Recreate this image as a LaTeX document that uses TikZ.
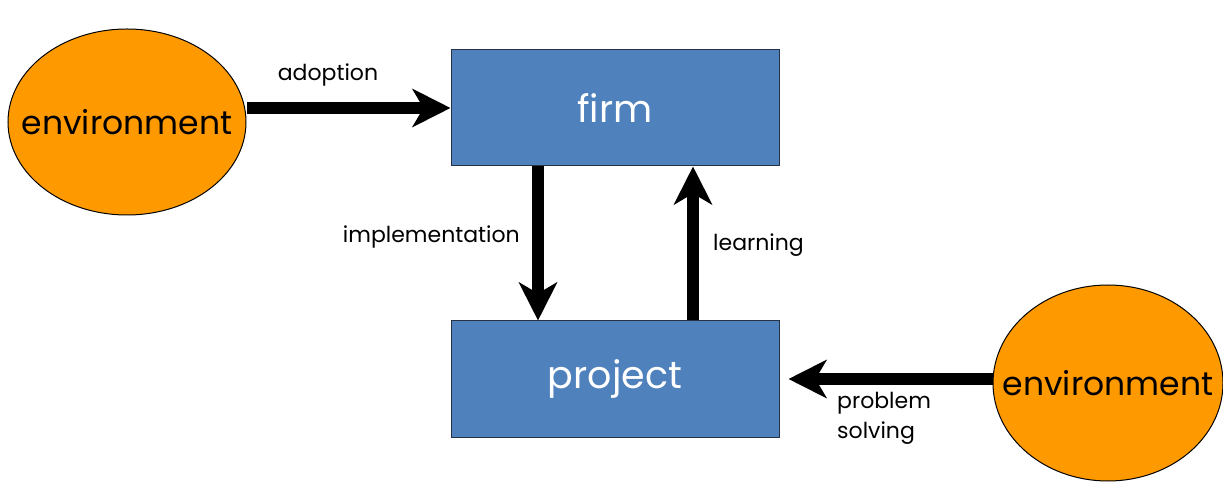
\documentclass[tikz,border=0pt]{standalone}
\usepackage{fontspec}
\setmainfont{Poppins}
\usetikzlibrary{positioning}
\usetikzlibrary{calc}
\usetikzlibrary{arrows.meta}
\usetikzlibrary{shapes.geometric}
\definecolor{envorange}{RGB}{255,153,0}
\definecolor{boxblue}{RGB}{79,129,189}
\definecolor{boxline}{RGB}{40,50,70}
\tikzset{
	every node/.style={align=center,inner sep=0pt},
	env/.style={ellipse,draw=black,line width=1pt,fill=envorange,inner xsep=-40pt,inner ysep=-20pt,font=\fontsize{33}{38}\selectfont},
	unit/.style={rectangle,draw=boxline,line width=1pt,fill=boxblue,text=white,minimum width=328pt,minimum height=116pt,font=\fontsize{38}{44}\selectfont},
	flow/.style={line width=12pt,-{Stealth[length=38pt,width=38pt,inset=11pt]}},
	lbl/.style={font=\fontsize{22}{30}\selectfont},
}

\begin{document}
\begin{tikzpicture}[x=1pt,y=1pt]
			\useasboundingbox (0,0) rectangle (1223,482);
			
			% environment ellipses..................
			\node [env,minimum width=238pt,minimum height=186pt] (envL) at (127,360) {environment};
			\node [env,minimum width=230pt,minimum height=196pt] (envR) at (1108,99) {environment};
			
			% firm and project boxes................
			\node [unit] (firm) at (615,374) {firm};
			\node [unit] (project) at (615,103) {project};
			
			% arrows................................
			\draw [flow] (firm.west -| envL.east) to (firm.west);
			\draw [flow] ([xshift=-77pt]firm.south) to ([xshift=-77pt]project.north);
			\draw [flow] ([xshift=78pt]project.north) to ([xshift=78pt]firm.south);
			\draw [flow] (envR.west |- project.east) to ([xshift=9pt]project.east);
			
			% labels................................
			\node [lbl] (adoption) at (328,407) {adoption};
			\node [lbl,anchor=east] (implementation) at (520,245) {implementation};
			\node [lbl,anchor=west] (learning) at (713,237) {learning};
			\node [lbl,anchor=west,align=left] (solving) at (837,64) {problem\\solving};
		\end{tikzpicture}
\end{document}
